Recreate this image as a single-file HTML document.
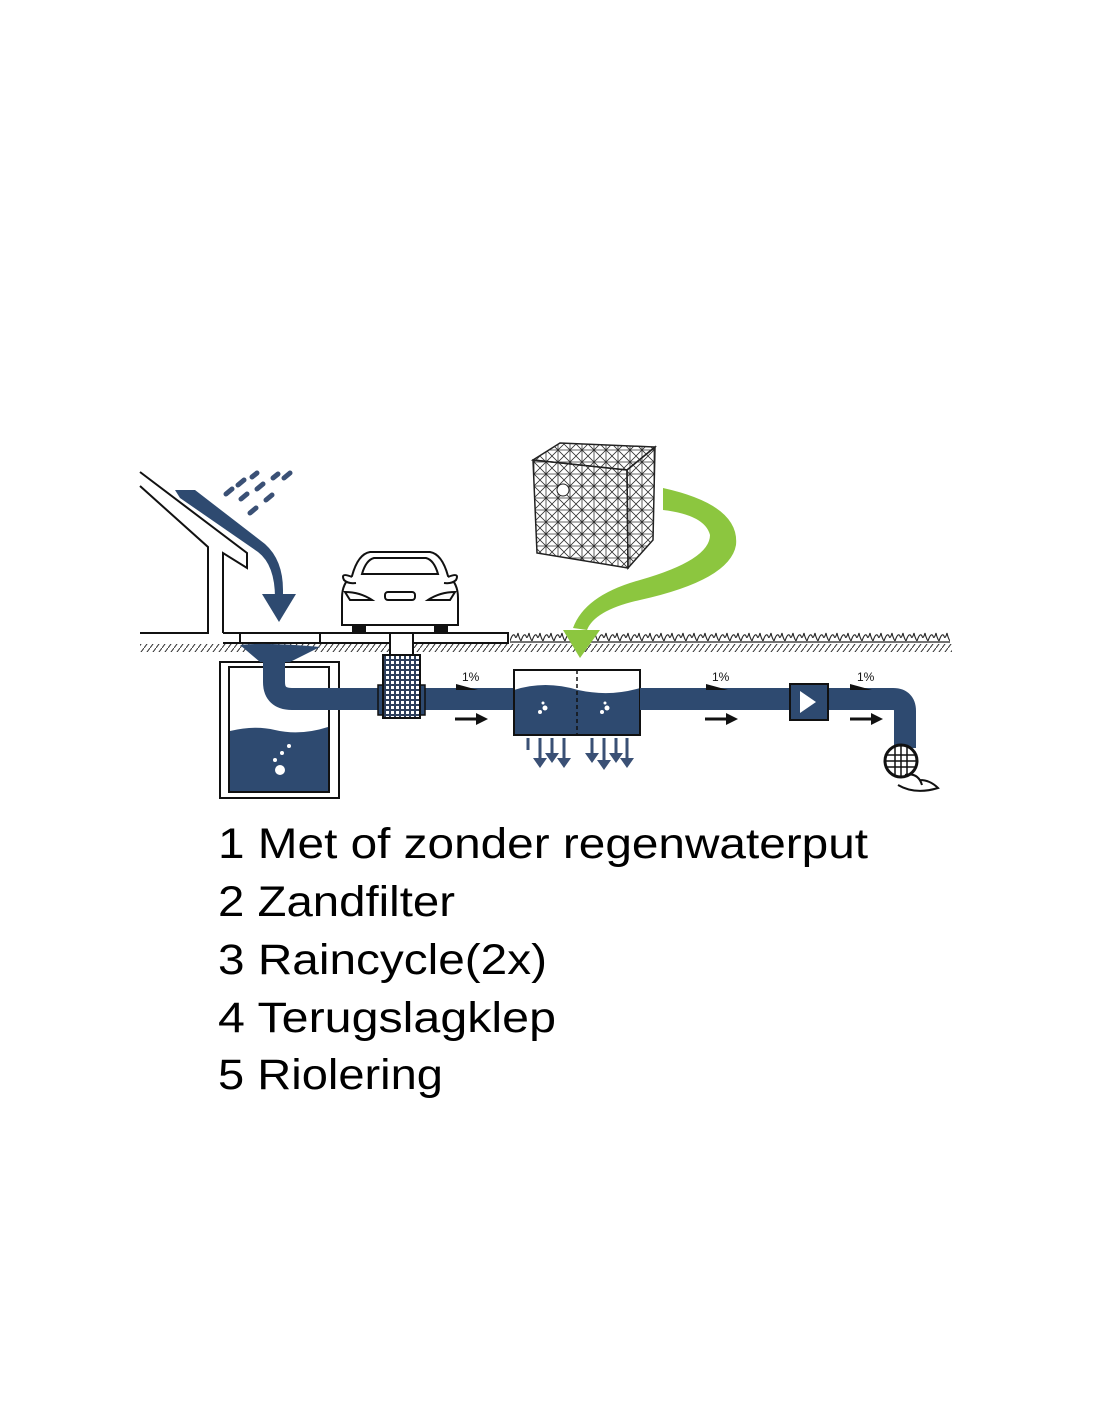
<!DOCTYPE html>
<html><head><meta charset="utf-8"><style>html,body{margin:0;padding:0;background:#fff}svg{display:block}</style></head>
<body>
<svg width="1100" height="1422" viewBox="0 0 1100 1422" xmlns="http://www.w3.org/2000/svg">
<defs>
<pattern id="hatch" width="6" height="8" patternUnits="userSpaceOnUse"><path d="M0 8 L6 0" stroke="#333" stroke-width="1"/></pattern>
<pattern id="dots" width="5" height="5" patternUnits="userSpaceOnUse"><rect width="5" height="5" fill="#2e3f5c"/><rect x="1" y="1" width="3" height="3" fill="#fff"/></pattern>
<pattern id="mesh" width="12" height="12" patternUnits="userSpaceOnUse"><path d="M0 0L12 12M12 0L0 12M6 0V12M0 6H12" stroke="#333" stroke-width="0.8"/></pattern>
<pattern id="grass" x="510" y="630" width="11" height="12" patternUnits="userSpaceOnUse"><path d="M0 11 Q3 2 5 6 Q6 10 8 3 Q9 8 11 11" stroke="#222" stroke-width="1.1" fill="none"/></pattern>
</defs>
<g fill="none" stroke="#111" stroke-width="2">
<path d="M140 472 L247 553 L247 568 L223 553 L223 633"/>
<path d="M140 486 L208 547 L208 633 L140 633"/>
<path d="M223 633 H508 V643 H223"/>
<rect x="240" y="633" width="80" height="10"/>
</g>
<rect x="140" y="644" width="812" height="8" fill="url(#hatch)"/>
<rect x="510" y="630" width="440" height="12" fill="url(#grass)"/>
<path d="M510 642 H950" stroke="#222" stroke-width="1.2"/>
<g stroke="#3a5075" stroke-width="5" stroke-linecap="round">
<path d="M226 494 l6 -5 M238 485 l6 -5 M252 477 l5 -4 M241 499 l6 -5 M257 489 l6 -5 M273 478 l5 -4 M250 513 l6 -5 M266 500 l6 -5 M284 478 l6 -5"/>
</g>
<path d="M175 490 L195 490 L265 544 Q283 560 283 590 L283 598 L275 598 Q275 565 258 552 L180 498 Z" fill="#2e4a70"/>
<path d="M262 594 H296 L279 622Z" fill="#2e4a70"/>
<rect x="220" y="662" width="119" height="136" fill="none" stroke="#111" stroke-width="2"/>
<rect x="229" y="667" width="100" height="125" fill="none" stroke="#111" stroke-width="2"/>
<path d="M230 731 Q255 725 275 730 Q300 736 328 727 V791 H230Z" fill="#2e4a70"/>
<circle cx="280" cy="770" r="5" fill="#fff"/><circle cx="275" cy="760" r="2" fill="#fff"/><circle cx="282" cy="753" r="2" fill="#fff"/><circle cx="289" cy="746" r="2" fill="#fff"/>
<path d="M240 645 Q265 642 320 647 L290 662 H260 Z" fill="#2e4a70"/>
<path d="M274 662 V682 Q274 699 292 699 H515" stroke="#2e4a70" stroke-width="22" fill="none"/>
<rect x="390" y="633" width="23" height="22" fill="#fff" stroke="#111" stroke-width="2"/>
<rect x="378" y="685" width="47" height="30" fill="#2e4a70" stroke="#111" stroke-width="1.5"/>
<rect x="383" y="655" width="37" height="63" fill="url(#dots)" stroke="#111" stroke-width="2"/>
<g stroke="#111" stroke-width="2" fill="#fff">
<path d="M352 576 Q358 554 370 552 H430 Q442 554 448 576 Q458 583 458 598 V625 H342 V598 Q342 583 352 576Z"/>
<path d="M362 574 Q366 560 374 558 H426 Q434 560 438 574 Z"/>
<path d="M352 577 Q340 572 344 580 Q348 584 356 583 M448 577 Q460 572 456 580 Q452 584 444 583"/>
<path d="M345 592 Q360 592 372 600 H350Z M455 592 Q440 592 428 600 H450Z"/>
<rect x="385" y="592" width="30" height="8" rx="3"/>
</g>
<rect x="352" y="625" width="14" height="8" fill="#111"/><rect x="434" y="625" width="14" height="8" fill="#111"/>
<path d="M514 690 Q545 680 578 690 Q610 697 640 688 V735 H514Z" fill="#2e4a70"/>
<rect x="514" y="670" width="126" height="65" fill="none" stroke="#111" stroke-width="2"/>
<path d="M577 670 V735" stroke="#111" stroke-width="1.5" stroke-dasharray="4 3"/>
<circle cx="545" cy="708" r="2.5" fill="#fff"/><circle cx="540" cy="712" r="2" fill="#fff"/><circle cx="543" cy="703" r="1.5" fill="#fff"/>
<circle cx="607" cy="708" r="2.5" fill="#fff"/><circle cx="602" cy="712" r="2" fill="#fff"/><circle cx="605" cy="703" r="1.5" fill="#fff"/>
<g stroke="#3a5075" stroke-width="3">
<path d="M528 738 V750 M540 738 V760 M552 738 V755 M564 738 V760 M592 738 V755 M604 738 V762 M616 738 V755 M627 738 V760"/>
</g>
<path d="M533 758 h14 l-7 10z M545 753 h14 l-7 10z M557 758 h14 l-7 10z M585 753 h14 l-7 10z M597 760 h14 l-7 10z M609 753 h14 l-7 10z M620 758 h14 l-7 10z" fill="#3a5075"/>
<path d="M640 699 H893 Q905 699 905 711 V748" stroke="#2e4a70" stroke-width="22" fill="none"/>
<rect x="790" y="684" width="38" height="36" fill="#2e4a70" stroke="#111" stroke-width="2"/>
<path d="M800 691 L816 702 L800 713Z" fill="#fff"/>
<circle cx="901" cy="761" r="16" fill="#fff" stroke="#111" stroke-width="3"/>
<path d="M887 755 H915 M886 761 H916 M887 767 H915 M895 746 V776 M901 745 V777 M907 746 V776" stroke="#111" stroke-width="1.5"/>
<path d="M905 775 Q918 772 922 785 M898 785 Q915 795 938 788 Q930 780 920 780" fill="none" stroke="#111" stroke-width="2"/>
<g font-family="Liberation Sans, sans-serif" font-size="12" fill="#111">
<text x="462" y="681">1%</text><text x="712" y="681">1%</text><text x="857" y="681">1%</text>
</g>
<path d="M456 684 L478 690 L456 690Z M706 684 L728 690 L706 690Z M850 684 L872 690 L850 690Z" fill="#111"/>
<g stroke="#111" stroke-width="3"><path d="M455 719 H478 M705 719 H728 M850 719 H873"/></g>
<path d="M476 713 L488 719 L476 725Z M726 713 L738 719 L726 725Z M871 713 L883 719 L871 725Z" fill="#111"/>
<g stroke="#222" stroke-width="1.5">
<path d="M533 460 L560 443 L655 447 L627 470 Z" fill="url(#mesh)"/>
<path d="M533 460 L627 470 L628 568 L537 553 Z" fill="url(#mesh)"/>
<path d="M627 470 L655 447 L653 540 L628 568 Z" fill="url(#mesh)"/>
</g>
<circle cx="563" cy="490" r="6" fill="#fff" stroke="#222"/>
<path d="M663 488 Q740 505 736 545 Q730 580 640 600 Q595 610 587 630 L573 628 Q585 595 640 580 Q710 560 710 535 Q705 515 663 510 Z" fill="#8cc63f"/>
<path d="M563 630 H600 L580 658 Z" fill="#8cc63f"/>
<g font-family="Liberation Sans, Arial, sans-serif" font-size="43" fill="#000">
<text x="218" y="858" textLength="650" lengthAdjust="spacingAndGlyphs">1 Met of zonder regenwaterput</text>
<text x="218" y="916" textLength="237" lengthAdjust="spacingAndGlyphs">2 Zandfilter</text>
<text x="218" y="974" textLength="329" lengthAdjust="spacingAndGlyphs">3 Raincycle(2x)</text>
<text x="218" y="1032" textLength="338" lengthAdjust="spacingAndGlyphs">4 Terugslagklep</text>
<text x="218" y="1089" textLength="225" lengthAdjust="spacingAndGlyphs">5 Riolering</text>
</g>
</svg>
</body></html>
